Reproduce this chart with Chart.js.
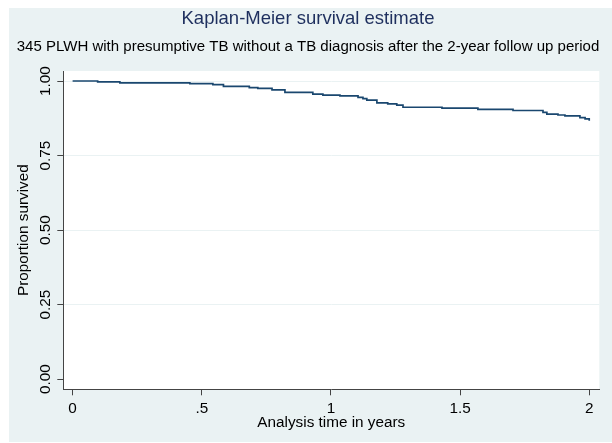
<!DOCTYPE html>
<html><head><meta charset="utf-8">
<script src="https://cdn.jsdelivr.net/npm/chart.js@4/dist/chart.umd.min.js"></script>
<style>html,body{margin:0;padding:0;background:#fff;} #wrap{width:612px;height:443px;position:relative;}</style>
</head><body><div id="wrap"><canvas id="c" width="612" height="443"></canvas></div>
<script>
// Kaplan-Meier step points (time in years, survival proportion)
const times = [0, 0.097, 0.183, 0.454, 0.543, 0.584, 0.684, 0.717, 0.772, 0.822, 0.930, 0.969, 1.035, 1.105, 1.124, 1.139, 1.178, 1.220, 1.255, 1.279, 1.430, 1.569, 1.705, 1.821, 1.836, 1.879, 1.906, 1.964, 1.984, 2.000];
const survival = [1.000, 0.997, 0.994, 0.991, 0.988, 0.982, 0.978, 0.975, 0.970, 0.962, 0.956, 0.953, 0.950, 0.945, 0.941, 0.936, 0.927, 0.923, 0.919, 0.912, 0.909, 0.905, 0.901, 0.895, 0.889, 0.886, 0.883, 0.877, 0.873, 0.867];
const xTickValues = [0, 0.5, 1, 1.5, 2];
const xTickLabels = ['0', '.5', '1', '1.5', '2'];
const yTickValues = [0, 0.25, 0.5, 0.75, 1];
const yTickLabels = ['0.00', '0.25', '0.50', '0.75', '1.00'];
const titleText = 'Kaplan-Meier survival estimate';
const subtitleText = '345 PLWH with presumptive TB without a TB diagnosis after the 2-year follow up period';
const xTitle = 'Analysis time in years';
const yTitle = 'Proportion survived';

const FONT = "'Liberation Sans', Arial, sans-serif";
const points = times.map((t, i) => ({x: t, y: survival[i]}));

const bgPlugin = {
  id: 'bg',
  beforeDraw(chart) {
    const {ctx, chartArea: a} = chart;
    ctx.save();
    ctx.fillStyle = '#ffffff';
    ctx.fillRect(0, 0, chart.width, chart.height);
    ctx.fillStyle = '#eaf2f3';
    ctx.fillRect(9, 8, chart.width - 9, chart.height - 9);
    ctx.fillStyle = '#ffffff';
    ctx.fillRect(a.left, a.top, a.right - a.left, a.bottom - a.top);
    ctx.restore();
  }
};

new Chart(document.getElementById('c'), {
  type: 'line',
  data: {
    datasets: [{
      data: points,
      stepped: true,
      borderColor: '#1a476f',
      borderWidth: 1.7,
      pointRadius: 0,
      fill: false,
      tension: 0
    }]
  },
  options: {
    responsive: false,
    animation: false,
    devicePixelRatio: 1,
    layout: {padding: {left: 16.7, right: 12.7, top: 0, bottom: 0}},
    plugins: {
      legend: {display: false},
      tooltip: {enabled: false},
      title: {
        display: true, text: titleText, color: '#1e2f5e',
        font: {family: FONT, size: 18.5, weight: 'normal'},
        padding: {top: 8, bottom: 0}
      },
      subtitle: {
        display: true, text: subtitleText, color: '#000000',
        font: {family: FONT, size: 15.45, weight: 'normal'},
        padding: {top: 7.5, bottom: 14.8}
      }
    },
    scales: {
      x: {
        type: 'linear', min: -0.036, max: 2.039,
        afterBuildTicks: s => { s.ticks = xTickValues.map(v => ({value: v})); },
        afterFit: s => { s.height = 53.7; },
        ticks: {
          autoSkip: false, minRotation: 0, maxRotation: 0, padding: 4, color: '#000',
          font: {family: FONT, size: 15.3},
          callback: (v, i) => xTickLabels[i]
        },
        grid: {drawOnChartArea: false, drawTicks: true, tickLength: 6, tickColor: '#444'},
        border: {display: true, color: '#444', width: 1},
        title: {display: true, text: xTitle, color: '#000', font: {family: FONT, size: 15.3}, padding: {top: 0, bottom: 11}}
      },
      y: {
        type: 'linear', min: -0.0345, max: 1.0335,
        afterBuildTicks: s => { s.ticks = yTickValues.map(v => ({value: v})); },
        afterFit: s => { s.width = 46.6; },
        ticks: {
          autoSkip: false, minRotation: 90, maxRotation: 90, crossAlign: 'center', padding: -3.1, color: '#000',
          font: {family: FONT, size: 15.3},
          callback: (v, i) => yTickLabels[i]
        },
        grid: {
          color: c => (c.tick && c.tick.value > 0) ? '#eaf2f3' : 'rgba(0,0,0,0)',
          lineWidth: 1, drawTicks: true, tickLength: 6, tickColor: '#444'
        },
        border: {display: true, color: '#444', width: 1},
        title: {display: true, text: yTitle, color: '#000', font: {family: FONT, size: 15.3}, padding: {top: -2.4, bottom: 0}}
      }
    }
  },
  plugins: [bgPlugin]
});
</script>
</body></html>
